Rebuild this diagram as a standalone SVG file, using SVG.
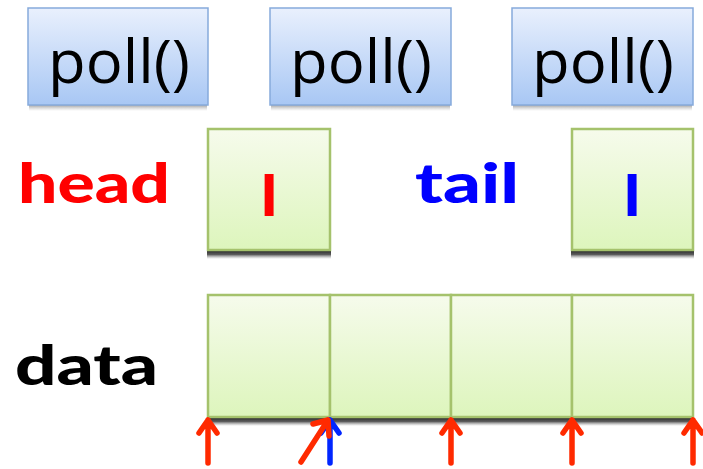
<svg xmlns="http://www.w3.org/2000/svg" width="703" height="469" viewBox="0 0 703 469">
<defs>
<linearGradient id="gBlue" x1="0" y1="0" x2="0" y2="1">
<stop offset="0" stop-color="#e9f0fd"/><stop offset="1" stop-color="#a8c7f4"/>
</linearGradient>
<linearGradient id="gGreen" x1="0" y1="0" x2="0" y2="1">
<stop offset="0" stop-color="#f6fbec"/><stop offset="1" stop-color="#ddf5bc"/>
</linearGradient>
<linearGradient id="gSh" x1="0" y1="0" x2="0" y2="1">
<stop offset="0" stop-color="#111" stop-opacity="1"/><stop offset="0.55" stop-color="#333" stop-opacity="0.8"/><stop offset="1" stop-color="#888" stop-opacity="0"/>
</linearGradient>
<linearGradient id="gShL" x1="0" y1="0" x2="0" y2="1">
<stop offset="0" stop-color="#555" stop-opacity="0.55"/><stop offset="1" stop-color="#999" stop-opacity="0"/>
</linearGradient>
</defs>
<style>
.poll{fill:url(#gBlue);stroke:#86aadb;stroke-width:1.5}
.cell{fill:url(#gGreen);stroke:#a5c26c;stroke-width:2.5}
.shd{fill:url(#gSh)}
.shl{fill:url(#gShL)}
.ptxt{font-family:"Open Sans","Liberation Sans",sans-serif;font-size:60px;fill:#000}
.lbl{font-family:Lato,"DejaVu Sans",sans-serif;font-weight:900;font-size:56px}
.ib{font-family:"Liberation Sans",Arial,sans-serif;font-weight:bold;font-size:62px;text-anchor:middle}
.ar{fill:none;stroke-width:5.5;stroke-linecap:round;stroke-linejoin:round}
</style>
<g id="poll1"><rect class="shl" x="29" y="105" width="178" height="6"/><rect class="poll" x="28" y="8" width="180" height="97"/><text class="ptxt" x="48" y="83" textLength="142" lengthAdjust="spacingAndGlyphs">poll()</text></g>
<g id="poll2"><rect class="shl" x="271" y="105" width="179" height="6"/><rect class="poll" x="270" y="8" width="181" height="97"/><text class="ptxt" x="290" y="83" textLength="142" lengthAdjust="spacingAndGlyphs">poll()</text></g>
<g id="poll3"><rect class="shl" x="513" y="105" width="179" height="6"/><rect class="poll" x="512" y="8" width="181" height="97"/><text class="ptxt" x="532" y="83" textLength="142" lengthAdjust="spacingAndGlyphs">poll()</text></g>
<g id="headLabel"><text class="lbl" x="18" y="203" fill="#ff0000" textLength="152" lengthAdjust="spacingAndGlyphs">head</text></g>
<g id="head"><rect class="shd" x="207" y="249" width="124" height="10"/><rect class="cell" x="208" y="129" width="122" height="121"/><text class="ib" x="269" y="216" fill="#ff0000">I</text></g>
<g id="tailLabel"><text class="lbl" x="415" y="203" fill="#0000ff" textLength="104" lengthAdjust="spacingAndGlyphs">tail</text></g>
<g id="tail"><rect class="shd" x="571" y="249" width="123" height="10"/><rect class="cell" x="572" y="129" width="121" height="121"/><text class="ib" x="632" y="216" fill="#0000ff">I</text></g>
<g id="dataLabel"><text class="lbl" x="15" y="385" fill="#000" textLength="143" lengthAdjust="spacingAndGlyphs">data</text></g>
<g id="data">
<rect class="shd" x="207" y="416" width="487" height="10"/>
<rect class="cell" x="208" y="295" width="122" height="122"/>
<rect class="cell" x="330" y="295" width="121" height="122"/>
<rect class="cell" x="451" y="295" width="121" height="122"/>
<rect class="cell" x="572" y="295" width="121" height="122"/>
</g>
<g id="connectors">
<g class="ar" stroke="#0026ff"><path d="M330 463V420M321 433L330 420L339 433"/></g>
<g class="ar" stroke="#ff2a00">
<path d="M208 463V420M199 433L208 420L217 433"/>
<path d="M451 463V420M442 433L451 420L460 433"/>
<path d="M572 463V420M563 433L572 420L581 433"/>
<path d="M693 463V420M684 433L693 420L702 433"/>
<path d="M301 462L328 420M313 424L328 420L329 436"/>
</g>
</g>
</svg>
